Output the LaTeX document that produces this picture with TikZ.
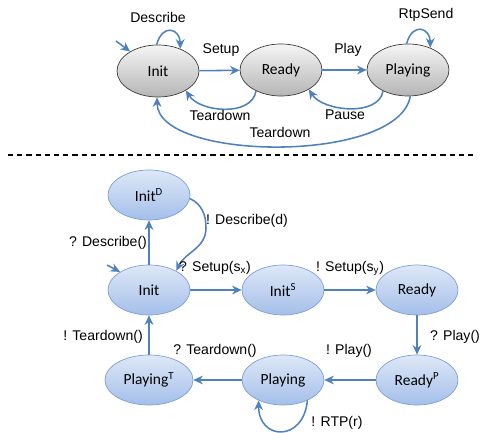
\documentclass[tikz,border=0pt]{standalone}
\usepackage{fontspec}
\setmainfont{Liberation Sans}
\newfontfamily\statefont{Carlito}
\usetikzlibrary{shapes.geometric,arrows.meta}

\definecolor{edgeblue}{HTML}{4F81BD}
\definecolor{grayTop}{HTML}{F5F5F5}
\definecolor{grayBot}{HTML}{B5B5B5}
\definecolor{grayLine}{HTML}{3C3C3C}
\definecolor{blueTop}{HTML}{DEE8F7}
\definecolor{blueBot}{HTML}{A4BFEA}
\definecolor{blueLine}{HTML}{7C9FD6}

\begin{document}
\begin{tikzpicture}[
    graystate/.style={ellipse, draw=grayLine, line width=0.5pt, top color=grayTop, bottom color=grayBot,
        minimum width=2.05cm, minimum height=1.3cm, inner sep=0pt, font=\statefont\fontsize{11}{13}\selectfont},
    bluestate/.style={ellipse, draw=blueLine, line width=0.5pt, top color=blueTop, bottom color=blueBot,
        minimum width=2.05cm, minimum height=1.25cm, inner sep=0pt, font=\statefont\fontsize{11}{13}\selectfont},
    trans/.style={draw=edgeblue, line width=1.1pt, -{Stealth[length=2.4mm,width=2.2mm]}},
    lbl/.style={font=\fontsize{10}{12}\selectfont, inner sep=0pt}
]
    \useasboundingbox (0,0) rectangle (12.05,10.8);

    % Top machine: the states
    \node[graystate] (init) at (3.95,9.025) {Init};
    \node[graystate] (ready) at (7.025,9.05) {Ready};
    \node[graystate] (playing) at (10.2,9.05) {Playing};
    \coordinate (initTop) at (2.9,9.775);

    % Top machine: the transitions
    \draw[trans] (initTop) -- (init.145);
    \draw[trans] (init.93) .. controls +(0.15,0.55) and +(0,0.5) .. (init.45);
    \draw[trans] (init) -- (ready);
    \draw[trans] (ready) -- (playing);
    \draw[trans] (playing.93) .. controls +(0.15,0.55) and +(0,0.5) .. (playing.45);
    \draw[trans] (ready.-140) .. controls +(-0.1,-0.65) and +(0.35,-0.55) .. (init.-35);
    \draw[trans] (playing.-140) .. controls +(-0.1,-0.65) and +(0.35,-0.55) .. (ready.-35);
    \draw[trans] (playing.-85) .. controls +(-0.3,-1.7) and +(0,-1.6) .. (init.-92);

    % Top machine: labels
    \node[lbl] (lDescribe) at (3.95,10.375) {Describe};
    \node[lbl] (lSetup) at (5.525,9.55) {Setup};
    \node[lbl] (lPlay) at (8.7,9.55) {Play};
    \node[lbl] (lRtpSend) at (10.65,10.425) {RtpSend};
    \node[lbl] (lTeardownA) at (5.5,7.925) {Teardown};
    \node[lbl] (lPause) at (8.625,7.925) {Pause};
    \node[lbl] (lTeardownB) at (7.0,7.5) {Teardown};

    % Separator
    \draw[line width=0.9pt, dash pattern=on 0.13cm off 0.1cm] (0.2,6.925) -- (11.875,6.925);

    % Bottom machine: the states
    \node[bluestate] (initD) at (3.725,5.925) {Init\textsuperscript{D}};
    \node[bluestate] (initB) at (3.725,3.55) {Init};
    \node[bluestate] (initS) at (7.075,3.55) {Init\textsuperscript{S}};
    \node[bluestate] (readyB) at (10.425,3.55) {Ready};
    \node[bluestate, minimum width=2.2cm] (playingT) at (3.725,1.3) {Playing\textsuperscript{T}};
    \node[bluestate] (playingB) at (7.075,1.3) {Playing};
    \node[bluestate] (readyP) at (10.425,1.3) {Ready\textsuperscript{P}};
    \coordinate (initBTop) at (2.675,4.175);
    \coordinate (bend) at (5.15,5.1);

    % Bottom machine: the transitions
    \draw[trans] (initBTop) -- (initB.148);
    \draw[trans] (initB) -- (initD);
    \draw[trans] (initD.-5) to[out=-25,in=90] (bend) to[out=-90,in=65] (initB.35);
    \draw[trans] (initB) -- (initS);
    \draw[trans] (initS) -- (readyB);
    \draw[trans] (readyB) -- (readyP);
    \draw[trans] (readyP) -- (playingB);
    \draw[trans] (playingB) -- (playingT);
    \draw[trans] (playingT) -- (initB);
    \draw[trans] (playingB.-40) .. controls +(-0.1,-1.05) and +(0,-1.0) .. (playingB.-140);

    % Bottom machine: labels
    \node[lbl] (lDescribeD) at (6.175,5.275) {! Describe(d)};
    \node[lbl] (lDescribeQ) at (2.7,4.725) {? Describe()};
    \node[lbl] (lSetupX) at (5.375,4.1) {? Setup(s\textsubscript{x})};
    \node[lbl] (lSetupY) at (8.75,4.1) {! Setup(s\textsubscript{y})};
    \node[lbl] (lPlayQ) at (11.375,2.375) {? Play()};
    \node[lbl] (lPlayE) at (8.725,2.025) {! Play()};
    \node[lbl] (lTeardownQ) at (5.375,2.025) {? Teardown()};
    \node[lbl] (lTeardownE) at (2.575,2.375) {! Teardown()};
    \node[lbl] (lRtp) at (8.425,0.225) {! RTP(r)};
\end{tikzpicture}
\end{document}
